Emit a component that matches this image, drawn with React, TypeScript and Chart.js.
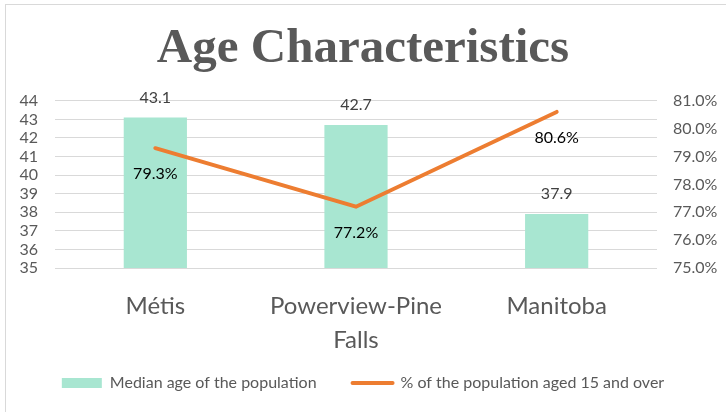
import React, { useEffect, useRef } from "react";
import { Chart, registerables } from "chart.js";

Chart.register(...registerables);

const categories: (string | string[])[] = ["Métis", ["Powerview-Pine", "Falls"], "Manitoba"];
const medianAge = [43.1, 42.7, 37.9];
const pctAged15Plus = [79.3, 77.2, 80.6];
const seriesNames = ["Median age of the population", "% of the population aged 15 and over"];
const titleText = "Age Characteristics";

const BAR_COLOR = "#A8E6D1";
const LINE_COLOR = "#ED7D31";
const TEXT_GRAY = "#595959";
const GRID = "#D9D9D9";

const LEGEND_PAD = 36;
const LEGEND_FONT = 16;
const LEGEND_CENTER_Y = 383;

const labelPlugin = {
  id: "valueLabels",
  afterLayout(chart: any) {
    const lg = chart.legend;
    if (lg) {
      const h = lg.height;
      lg.top = LEGEND_CENTER_Y - LEGEND_FONT / 2 - LEGEND_PAD;
      lg.bottom = lg.top + h;
    }
  },
  afterDatasetsDraw(chart: any) {
    const ctx = chart.ctx;
    ctx.save();
    ctx.textAlign = "center";
    ctx.textBaseline = "middle";
    ctx.font = "16px Lato";
    const barMeta = chart.getDatasetMeta(0);
    barMeta.data.forEach((el: any, i: number) => {
      ctx.fillStyle = "#404040";
      ctx.fillText(medianAge[i].toFixed(1), el.x, el.y - 20);
    });
    const lineMeta = chart.getDatasetMeta(1);
    lineMeta.data.forEach((el: any, i: number) => {
      ctx.fillStyle = "#000000";
      ctx.fillText(pctAged15Plus[i].toFixed(1) + "%", el.x, el.y + 26);
    });
    ctx.restore();
  },
};

export default function App() {
  const ref = useRef<HTMLCanvasElement>(null);
  useEffect(() => {
    if (!ref.current) return;
    const chart = new Chart(ref.current, {
      type: "bar",
      data: {
        labels: categories as any,
        datasets: [
          {
            type: "bar",
            label: seriesNames[0],
            data: medianAge,
            backgroundColor: BAR_COLOR,
            borderWidth: 0,
            barPercentage: 0.315,
            categoryPercentage: 1,
            yAxisID: "y",
            order: 1,
          },
          {
            type: "line",
            label: seriesNames[1],
            data: pctAged15Plus,
            borderColor: LINE_COLOR,
            backgroundColor: LINE_COLOR,
            borderWidth: 4,
            pointRadius: 0,
            tension: 0,
            borderCapStyle: "round",
            yAxisID: "y1",
            order: 0,
          } as any,
        ],
      },
      options: {
        responsive: false,
        animation: false,
        layout: { padding: 0 },
        plugins: {
          title: {
            display: true,
            text: titleText,
            color: TEXT_GRAY,
            font: { family: "Liberation Serif", size: 49, weight: "bold" },
            padding: { top: 20, bottom: 22 },
          },
          legend: {
            position: "bottom",
            maxHeight: 54,
            labels: {
              color: TEXT_GRAY,
              font: { family: "Lato", size: LEGEND_FONT },
              usePointStyle: true,
              pointStyleWidth: 40,
              boxHeight: 10,
              padding: LEGEND_PAD,
              sort: (a: any, b: any) => a.datasetIndex - b.datasetIndex,
              generateLabels(chart: any) {
                const items = Chart.defaults.plugins.legend.labels.generateLabels(chart);
                items.forEach((it: any) => {
                  if (it.datasetIndex === 0) {
                    it.pointStyle = "rect";
                    it.fillStyle = BAR_COLOR;
                    it.strokeStyle = BAR_COLOR;
                    it.lineWidth = 0;
                  } else {
                    it.pointStyle = "line";
                    it.fillStyle = LINE_COLOR;
                    it.strokeStyle = LINE_COLOR;
                    it.lineWidth = 4;
                    it.lineCap = "round";
                  }
                });
                return items;
              },
            },
          },
          tooltip: { enabled: false },
        },
        scales: {
          x: {
            grid: { display: false, drawTicks: false },
            border: { display: false },
            ticks: {
              color: TEXT_GRAY,
              font: { family: "Lato", size: 24, lineHeight: 1.42 },
              padding: 21,
              maxRotation: 0,
              autoSkip: false,
            },
            afterFit(scale: any) {
              scale.height = 90;
            },
          },
          y: {
            position: "left",
            min: 35,
            max: 44,
            grid: { color: GRID, drawTicks: false, lineWidth: 1 },
            border: { display: false },
            ticks: {
              stepSize: 1,
              autoSkip: false,
              color: TEXT_GRAY,
              font: { family: "Lato", size: 16 },
              padding: 17,
            },
            afterFit(scale: any) {
              scale.width = 55;
            },
          },
          y1: {
            position: "right",
            min: 75,
            max: 81,
            grid: { display: false, drawTicks: false },
            border: { display: false },
            ticks: {
              stepSize: 1,
              autoSkip: false,
              color: TEXT_GRAY,
              font: { family: "Lato", size: 16 },
              padding: 16,
              callback: (v: any) => Number(v).toFixed(1) + "%",
            },
            afterFit(scale: any) {
              scale.width = 69;
            },
          },
        },
      },
      plugins: [labelPlugin],
    });
    return () => chart.destroy();
  }, []);

  return (
    <div style={{ position: "absolute", left: 0, top: 0, width: 726, height: 412, overflow: "hidden", background: "#fff" }}>
      <div
        style={{
          position: "absolute",
          left: 5,
          top: 4,
          width: 760,
          height: 460,
          border: "1px solid #D9D9D9",
          boxSizing: "border-box",
        }}
      />
      <canvas ref={ref} width={726} height={412} style={{ position: "absolute", left: 0, top: 0 }} />
    </div>
  );
}
